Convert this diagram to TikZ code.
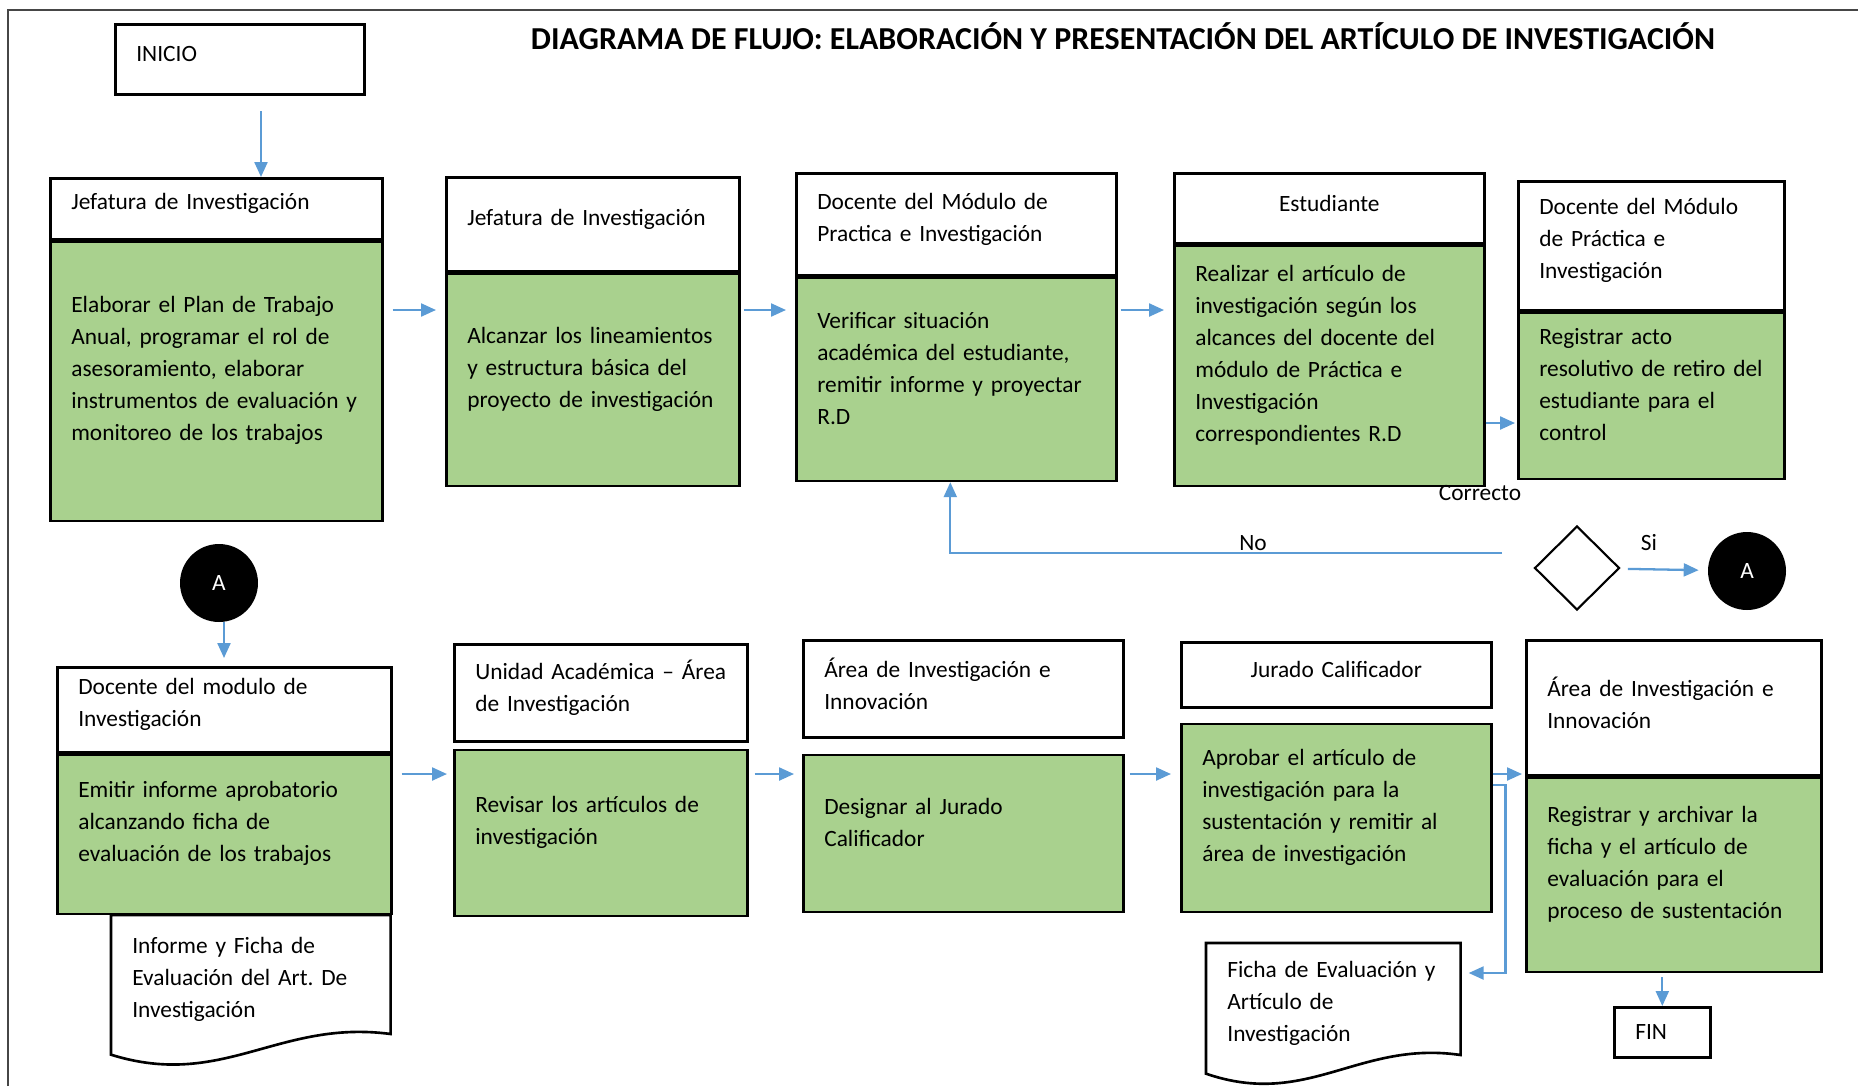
\documentclass[tikz,border=0pt]{standalone}
\usepackage{fontspec}
\setmainfont{Carlito}
\usepackage{tikz}
\usetikzlibrary{arrows.meta, positioning, shapes.geometric}
\definecolor{procgreen}{RGB}{169, 209, 142}
\definecolor{flowblue}{RGB}{91, 155, 213}
\definecolor{framegray}{RGB}{70, 70, 70}
\newcommand{\liftby}[1]{\endgraf\vspace*{#1}}

\begin{document}
\begin{tikzpicture}[x=0.02cm, y=-0.02cm, font=\fontsize{13.3}{18.2}\selectfont,
  box/.style={draw=black, line width=1.5pt, anchor=north west,
              align=left, inner xsep=0.42cm, inner ysep=0.1cm},
  hdr/.style={box, fill=white, execute at end node={\liftby{0.2cm}}},
  proc/.style={box, fill=procgreen, execute at end node={\liftby{0.44cm}}},
  docnode/.style={anchor=north west, align=left, inner xsep=0.42cm, inner ysep=0.1cm,
                  execute at end node={\liftby{0.2cm}}},
  docline/.style={draw=black, line width=1.5pt},
  conn/.style={circle, fill=black, text=white, minimum size=1.56cm, inner sep=0pt},
  decision/.style={diamond, draw=black, line width=1.2pt, aspect=1,
                   minimum width=1.7cm, minimum height=1.68cm, inner sep=0pt},
  flow/.style={draw=flowblue, line width=1.3pt,
               -{Triangle[length=0.3cm, width=0.26cm]}, shorten >=0.18cm}]
  \useasboundingbox (0,0) rectangle (1858,1086);
  \draw[framegray, line width=0.9pt] (8,1086) -- (8,10) -- (1858,10);

  \node[font=\bfseries\fontsize{18.2}{21}\selectfont] (title) at (1123,36)
    {DIAGRAMA DE FLUJO: ELABORACIÓN Y PRESENTACIÓN DEL ARTÍCULO DE INVESTIGACIÓN};

  % fila superior
  \node[hdr, text width=4.14cm, minimum height=1.4cm] (inicio) at (114,23) {INICIO};

  \node[hdr, text width=5.80cm, minimum height=1.22cm] (jef1) at (49,177) {Jefatura de Investigación};
  \node[proc, text width=5.80cm, minimum height=5.58cm, below=0pt of jef1] (elab)
    {Elaborar el Plan de Trabajo\\ Anual, programar el rol de\\ asesoramiento, elaborar\\
     instrumentos de evaluación y\\ monitoreo de los trabajos};

  \node[hdr, text width=5.02cm, minimum height=1.88cm] (jef2) at (445,176) {Jefatura de Investigación};
  \node[proc, text width=5.02cm, minimum height=4.24cm, below=0pt of jef2] (alc)
    {Alcanzar los lineamientos\\ y estructura básica del\\ proyecto de investigación};

  \node[hdr, text width=5.56cm, minimum height=2.04cm] (doc3) at (795,172)
    {Docente del Módulo de\\ Practica e Investigación};
  \node[proc, text width=5.56cm, minimum height=4.06cm, below=0pt of doc3] (verif)
    {Verificar situación\\ académica del estudiante,\\ remitir informe y proyectar\\ R.D};

  \node[hdr, text width=5.36cm, minimum height=1.40cm, align=center] (est) at (1173,172) {Estudiante};
  \node[proc, text width=5.36cm, minimum height=4.80cm, below=0pt of est] (real)
    {Realizar el artículo de\\ investigación según los\\ alcances del docente del\\
     módulo de Práctica e\\ Investigación\\ correspondientes R.D};

  \node[hdr, text width=4.48cm, minimum height=2.58cm] (doc5) at (1517,180)
    {Docente del Módulo\\ de Práctica e\\ Investigación};
  \node[proc, text width=4.48cm, minimum height=3.32cm, below=0pt of doc5] (reg)
    {Registrar acto\\ resolutivo de retiro del\\ estudiante para el\\ control};

  % decision
  \node (lblok) at (1480,493) {Correcto};
  \node[decision] (dec) at (1577,568) {};
  \node (lblno) at (1253,543) {No};
  \node (lblsi) at (1649,543) {Si};
  \node[conn] (conA2) at (1747,571) {A};
  \node[conn] (conA1) at (219,583) {A};

  % fila inferior
  \node[hdr, text width=5.84cm, minimum height=1.70cm] (doc6) at (56,666)
    {Docente del modulo de\\ Investigación};
  \node[proc, text width=5.84cm, minimum height=3.18cm, below=0pt of doc6] (emit)
    {Emitir informe aprobatorio\\ alcanzando ficha de\\ evaluación de los trabajos};
  \node[docnode, text width=4.74cm, minimum height=2.78cm] (inf) at (111,915)
    {Informe y Ficha de\\ Evaluación del Art.\ De\\ Investigación};
  \draw[docline] (inf.north west) -- (inf.north east) -- ++(0,119)
    .. controls +(-112,-15) and +(112,35) .. (inf.south west) -- cycle;

  \node[hdr, text width=5.02cm, minimum height=1.94cm] (unid) at (453,643)
    {Unidad Académica – Área\\ de Investigación};
  \node[proc, text width=5.02cm, minimum height=3.32cm, below=0.12cm of unid] (rev)
    {Revisar los artículos de\\ investigación};

  \node[hdr, text width=5.56cm, minimum height=1.94cm] (area1) at (802,639)
    {Área de Investigación e\\ Innovación};
  \node[proc, text width=5.56cm, minimum height=3.14cm, below=0.3cm of area1] (desig)
    {Designar al Jurado\\ Calificador};

  \node[hdr, text width=5.36cm, minimum height=1.30cm, align=center] (jur) at (1180,641)
    {Jurado Calificador};
  \node[proc, text width=5.36cm, minimum height=3.76cm, below=0.28cm of jur] (aprob)
    {Aprobar el artículo de\\ investigación para la\\ sustentación y remitir al\\ área de investigación};

  \node[hdr, text width=5.06cm, minimum height=2.70cm] (area2) at (1525,639)
    {Área de Investigación e\\ Innovación};
  \node[proc, text width=5.06cm, minimum height=3.88cm, below=0pt of area2] (regarch)
    {Registrar y archivar la\\ ficha y el artículo de\\ evaluación para el\\ proceso de sustentación};

  \node[docnode, text width=4.24cm, minimum height=2.60cm] (fich) at (1206,943)
    {Ficha de Evaluación y\\ Artículo de\\ Investigación};
  \draw[docline] (fich.north west) -- (fich.north east) -- ++(0,112)
    .. controls +(-102,-15) and +(102,35) .. (fich.south west) -- cycle;

  \node[box, fill=white, text width=1.08cm, minimum height=1.0cm] (fin) at (1613,1006) {FIN};

  % conectores
  \coordinate (s0) at (261,111);
  \coordinate (s1) at (224,622);
  \coordinate (row1) at (0,310);
  \coordinate (row1b) at (0,423);
  \coordinate (row2) at (0,774);
  \coordinate (row2b) at (0,785);
  \coordinate (row2c) at (0,973);
  \coordinate (noend) at (1502,553);

  \draw[flow, shorten >=0pt] (s0) -- (s0 |- jef1.north);
  \draw[flow, shorten <=0.18cm] (elab.east |- row1) -- (alc.west |- row1);
  \draw[flow, shorten <=0.06cm] (alc.east |- row1) -- (verif.west |- row1);
  \draw[flow, shorten <=0.06cm] (verif.east |- row1) -- (real.west |- row1);
  \draw[flow, shorten >=0.04cm] (real.east |- row1b) -- (reg.west |- row1b);
  \draw[flow, shorten >=0pt] (noend) -| ([xshift=-0.12cm]verif.south);
  \draw[flow, shorten <=0.16cm] (dec) -- (conA2);
  \draw[flow, shorten >=0.16cm] (s1) -- (s1 |- doc6.north);
  \draw[flow, shorten <=0.18cm, shorten >=0.12cm] (emit.east |- row2) -- (rev.west |- row2);
  \draw[flow, shorten <=0.12cm, shorten >=0.16cm] (rev.east |- row2) -- (desig.west |- row2);
  \draw[flow, shorten <=0.1cm] (desig.east |- row2) -- (aprob.west |- row2);
  \draw[flow, shorten >=0.06cm] (aprob.east |- row2) -- (regarch.west |- row2);
  \draw[flow, shorten >=0.16cm] (aprob.east |- row2b) -- ++(13,0) |- (fich.east |- row2c);
  \draw[flow, shorten <=0.08cm, shorten >=0pt] (fin.north |- regarch.south) -- (fin.north);
\end{tikzpicture}
\end{document}
